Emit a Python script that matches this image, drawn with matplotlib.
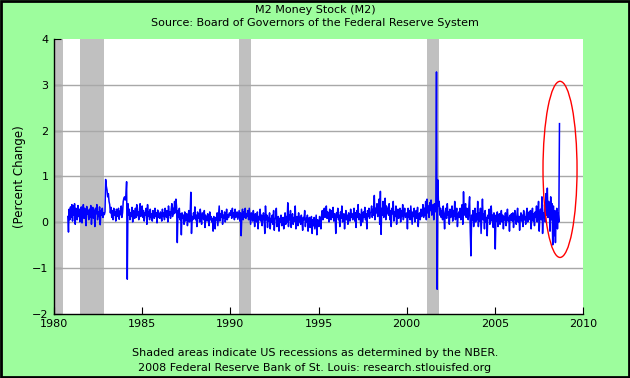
import numpy as np
import pandas as pd
import matplotlib
matplotlib.use("Agg")
import matplotlib.pyplot as plt
import matplotlib.dates as mdates
from matplotlib.patches import Ellipse, Rectangle

# M2 weekly percent change (about one value every two weeks)
m2_1980s = [
    0.12, -0.22, 0.28, 0.05, 0.33, 0.10,  # late 1980
    0.38, 0.02, 0.35, 0.15, 0.40, -0.05, 0.30, 0.22, 0.05, 0.36, 0.12, 0.28, 0.00, 0.25, 0.33, -0.02, 0.20, 0.38, 0.08, 0.30, 0.15, -0.08, 0.34, 0.18, 0.25, 0.05,
    0.28, 0.10, 0.36, -0.05, 0.22, 0.32, 0.08, 0.26, -0.10, 0.30, 0.18, 0.38, 0.05, 0.22, 0.12, 0.33, -0.06, 0.25, 0.15, 0.30, 0.10, 0.20, 0.16, 0.22, 0.93, 0.78,
    0.70, 0.55, 0.62, 0.45, 0.38, 0.20, 0.32, 0.10, 0.25, 0.05, 0.30, 0.15, 0.22, 0.02, 0.28, 0.12, 0.18, 0.30, 0.06, 0.24, 0.16, 0.35, 0.10, 0.20, 0.45, 0.52,
    0.55, 0.48, 0.58, 0.88, -1.25, 0.40, 0.15, 0.28, 0.05, 0.20, 0.12, 0.32, 0.00, 0.25, 0.18, 0.08, 0.30, 0.10, 0.38, 0.14, 0.22, 0.05, 0.28, 0.40, 0.12, 0.30,
    0.35, 0.10, 0.25, 0.02, 0.20, 0.15, 0.30, -0.05, 0.38, 0.12, 0.22, 0.05, 0.28, 0.10, 0.18, 0.02, 0.25, 0.14, 0.08, 0.30, 0.12, 0.20, -0.02, 0.26, 0.10, 0.18,
    0.08, 0.22, 0.15, 0.02, 0.28, 0.12, 0.20, 0.05, 0.30, 0.18, 0.10, 0.25, 0.00, 0.35, 0.15, 0.22, 0.08, 0.28, 0.40, 0.12, 0.30, 0.18, 0.45, 0.20, 0.50, 0.32,
    -0.45, 0.25, 0.10, 0.30, 0.05, 0.18, -0.28, 0.20, 0.08, 0.15, -0.05, 0.22, 0.02, 0.12, 0.18, -0.08, 0.10, 0.25, 0.00, 0.15, 0.65, -0.25, 0.12, 0.05, 0.20, 0.08,
    0.33, 0.05, 0.15, -0.10, 0.22, 0.08, 0.18, 0.00, 0.28, 0.10, -0.05, 0.20, 0.12, 0.05, 0.25, -0.12, 0.15, 0.08, 0.02, 0.18, 0.10, -0.08, 0.22, 0.05, 0.12, 0.00,
    0.08, -0.20, 0.12, 0.02, -0.15, 0.10, 0.05, 0.20, -0.08, 0.15, 0.35, 0.02, 0.18, 0.10, 0.25, -0.05, 0.15, 0.08, 0.22, 0.00, 0.12, 0.28, 0.05, 0.15, 0.10, 0.20,
]
m2_1990s = [
    0.15, 0.25, 0.08, 0.30, 0.12, 0.20, 0.05, 0.28, 0.10, 0.18, 0.22, 0.06, 0.15, 0.25, 0.02, 0.20, -0.30, 0.15, 0.28, 0.05, 0.22, 0.10, 0.30, 0.08, 0.18, 0.12,
    0.25, 0.05, 0.30, 0.12, -0.05, 0.20, 0.15, 0.02, 0.25, 0.10, -0.10, 0.18, 0.08, 0.00, 0.22, -0.15, 0.12, 0.05, 0.28, 0.02, 0.15, -0.08, 0.10, 0.20, 0.05, -0.25,
    0.35, 0.05, 0.15, -0.12, 0.10, 0.02, 0.20, -0.15, 0.08, 0.00, 0.15, -0.05, 0.25, -0.18, 0.05, 0.10, 0.30, -0.10, 0.02, 0.12, -0.20, 0.08, 0.00, 0.15, -0.08, 0.05,
    0.10, -0.15, 0.05, 0.20, -0.05, 0.12, 0.00, 0.42, -0.10, 0.15, 0.05, 0.25, -0.12, 0.08, 0.18, -0.05, 0.10, 0.02, 0.35, -0.15, 0.05, 0.12, -0.08, 0.20, 0.00, 0.10,
    -0.05, 0.15, 0.02, -0.18, 0.10, 0.05, 0.25, -0.10, 0.08, 0.00, 0.15, -0.20, 0.05, 0.10, -0.12, 0.02, 0.12, -0.25, 0.05, -0.08, 0.10, -0.15, 0.00, 0.15, -0.28, 0.05,
    0.02, -0.10, 0.12, 0.05, -0.15, 0.15, 0.25, 0.05, 0.20, 0.30, 0.10, 0.18, 0.35, 0.08, 0.22, 0.12, 0.00, 0.28, 0.15, 0.05, 0.25, 0.10, 0.32, 0.02, 0.18, 0.12,
    -0.25, 0.20, 0.10, 0.30, 0.05, 0.15, -0.10, 0.22, 0.08, 0.35, 0.00, 0.12, 0.18, -0.15, 0.10, 0.25, 0.05, 0.15, -0.05, 0.20, 0.12, 0.02, 0.28, 0.10, 0.18, 0.05,
    0.15, 0.30, 0.02, 0.20, -0.12, 0.25, 0.10, 0.38, 0.05, 0.18, 0.12, -0.08, 0.28, 0.15, 0.00, 0.22, 0.10, 0.32, 0.05, 0.18, -0.15, 0.25, 0.12, 0.30, 0.08, 0.20,
    0.22, 0.35, 0.10, 0.28, 0.15, 0.58, 0.05, 0.30, 0.20, 0.40, 0.12, 0.25, 0.50, -0.05, 0.67, -0.27, 0.30, 0.15, 0.45, 0.10, 0.28, 0.52, 0.05, 0.35, 0.20, 0.30,
    0.15, 0.40, 0.05, 0.25, -0.10, 0.30, 0.18, 0.45, 0.02, 0.22, 0.12, 0.35, -0.05, 0.20, 0.28, 0.08, 0.15, 0.30, 0.00, 0.25, 0.12, 0.38, 0.05, 0.20, 0.30, 0.10,
]
m2_2000s = [
    0.20, -0.15, 0.30, 0.10, 0.25, 0.05, 0.35, 0.15, -0.05, 0.22, 0.12, 0.30, 0.00, 0.18, 0.25, 0.08, 0.32, -0.10, 0.15, 0.20, 0.05, 0.28, 0.12, 0.18, 0.38, 0.10,
    0.30, 0.15, 0.45, 0.05, 0.50, 0.20, 0.35, 0.10, 0.42, 0.25, 0.48, 0.15, 0.30, 0.38, 0.05, 0.40, 0.22, 0.30, 3.28, -1.47, 0.92, 0.35, 0.45, 0.15, 0.30, 0.10,
    0.25, 0.05, 0.35, 0.12, -0.15, 0.20, 0.30, 0.08, 0.40, 0.15, 0.22, -0.05, 0.28, 0.10, 0.18, 0.35, 0.02, 0.25, 0.12, 0.45, 0.05, 0.20, 0.30, -0.10, 0.15, 0.22,
    0.10, 0.30, 0.05, 0.20, 0.38, -0.05, 0.66, 0.15, 0.25, 0.40, 0.10, 0.30, 0.20, 0.05, 0.35, 0.55, -0.20, -0.74, 0.15, 0.05, 0.25, -0.10, 0.12, 0.30, 0.00, 0.18,
    0.05, 0.45, -0.10, 0.20, 0.02, 0.30, -0.25, 0.12, 0.50, 0.05, 0.18, -0.15, 0.25, 0.00, 0.10, -0.30, 0.15, 0.08, 0.28, -0.05, 0.12, 0.35, 0.02, 0.15, -0.12, 0.20,
    0.10, -0.59, 0.15, 0.02, 0.22, -0.10, 0.08, 0.18, -0.05, 0.12, 0.25, 0.00, 0.15, -0.15, 0.10, 0.05, 0.20, -0.08, 0.12, 0.28, 0.02, 0.10, -0.20, 0.15, 0.05, 0.18,
    0.02, 0.20, -0.12, 0.10, 0.25, 0.05, -0.05, 0.15, 0.30, 0.00, 0.12, -0.18, 0.08, 0.20, 0.02, 0.15, -0.10, 0.25, 0.05, 0.12, -0.05, 0.18, 0.30, 0.00, 0.10, 0.22,
    0.05, 0.25, -0.15, 0.12, 0.30, 0.02, 0.18, -0.08, 0.22, 0.10, 0.35, 0.00, 0.15, 0.45, -0.20, 0.12, 0.28, 0.05, 0.55, -0.25, 0.20, 0.10, 0.38, 0.00, 0.62, 0.15,
    0.74, 0.10, 0.45, 0.30, -0.20, 0.55, 0.05, 0.40, -0.50, 0.35, -0.30, 0.25, -0.45, 0.10, 0.30, -0.15, 0.20, 0.00, 2.15,
]
block_starts = ["1980-10-13", "1990-01-01", "2000-01-03"]

recessions = [("1980-01-01", "1980-07-01"), ("1981-07-01", "1982-11-01"),
              ("1990-07-01", "1991-03-01"), ("2001-03-01", "2001-11-01")]

dates = []
values = []
for start, block in zip(block_starts, [m2_1980s, m2_1990s, m2_2000s]):
    dates.extend(pd.date_range(start, periods=len(block), freq="14D"))
    values.extend(block)

green = "#9dfd9d"
fig = plt.figure(figsize=(6.3, 3.78), dpi=100, facecolor=green)
ax = fig.add_axes([54 / 630, 1 - 313.5 / 378, 529 / 630, 274.5 / 378])
ax.set_facecolor("white")

for a, b in recessions:
    ax.axvspan(pd.Timestamp(a), pd.Timestamp(b), color="#c0c0c0", lw=0, zorder=1)

for y in [-1, 0, 1, 2, 3]:
    ax.axhline(y, color="#a8a8a8", lw=1, zorder=2)

ax.plot(dates, values, color="#0000ff", lw=1.1, zorder=3)

# red ring around the latest spike
cx = mdates.date2num(pd.Timestamp("2008-09-12"))
ax.add_patch(Ellipse((cx, 1.15), 705, 3.85, fill=False, edgecolor="red", lw=1, zorder=4))

ax.set_xlim(pd.Timestamp("1980-01-01"), pd.Timestamp("2010-01-01"))
ax.set_ylim(-2, 4)
ax.set_yticks(range(-2, 5))
ax.xaxis.set_major_locator(mdates.YearLocator(5))
ax.xaxis.set_major_formatter(mdates.DateFormatter("%Y"))
for s in ["top", "right"]:
    ax.spines[s].set_visible(False)
for s in ["left", "bottom"]:
    ax.spines[s].set_linewidth(1)
ax.tick_params(direction="in", length=5, labelsize=8, pad=4)
ax.set_ylabel("(Percent Change)", fontsize=8.5, labelpad=4)

fig.text(0.5, 1 - 10 / 378, "M2 Money Stock (M2)", ha="center", va="center", fontsize=8)
fig.text(0.5, 1 - 23.5 / 378, "Source: Board of Governors of the Federal Reserve System",
         ha="center", va="center", fontsize=8)
fig.text(0.5, 1 - 353 / 378, "Shaded areas indicate US recessions as determined by the NBER.",
         ha="center", va="center", fontsize=8)
fig.text(0.5, 1 - 368 / 378, "2008 Federal Reserve Bank of St. Louis: research.stlouisfed.org",
         ha="center", va="center", fontsize=8)

fig.add_artist(Rectangle((0.001, 0.002), 0.997, 0.996, transform=fig.transFigure,
                         fill=False, edgecolor="black", lw=2))

fig.savefig("out.png", dpi=100, facecolor=green)
